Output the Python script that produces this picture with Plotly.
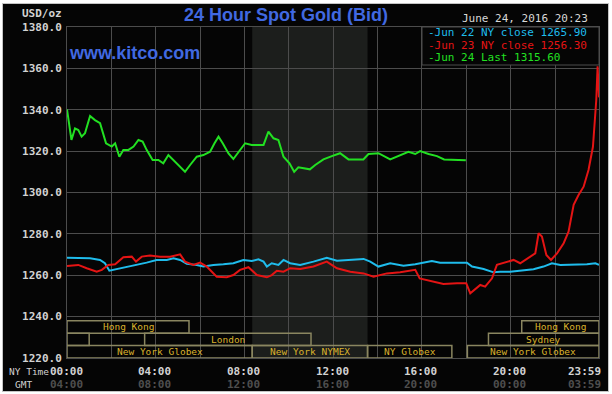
import plotly.graph_objects as go

# ---------------- data ----------------
green_t = [0.0, 0.2, 0.36, 0.51, 0.66, 0.81, 1.04, 1.26, 1.49, 1.76, 2.02, 2.17, 2.36, 2.54, 2.77, 3.0,
           3.22, 3.41, 3.59, 3.86, 4.12, 4.34, 4.57, 4.8, 5.1, 5.32, 5.55, 5.85, 6.15, 6.45, 6.65, 6.83,
           7.02, 7.28, 7.5, 7.73, 8.03, 8.33, 8.63, 8.86, 9.08, 9.31, 9.53, 9.76, 10.03, 10.24, 10.43,
           10.74, 10.95, 11.19, 11.56, 11.94, 12.31, 12.69, 13.07, 13.36, 13.59, 14.04, 14.57, 15.02,
           15.39, 15.7, 15.92, 16.3, 16.68, 17.0, 17.98]
green_v = [1340.2, 1325.4, 1331.0, 1330.2, 1327.0, 1328.6, 1337.0, 1335.0, 1333.5, 1323.8, 1322.2, 1323.8,
           1317.3, 1320.6, 1320.6, 1322.2, 1325.4, 1324.6, 1320.6, 1315.7, 1315.7, 1314.1, 1318.1, 1315.7,
           1312.5, 1310.0, 1313.3, 1317.3, 1318.1, 1319.7, 1323.8, 1327.0, 1323.8, 1318.9, 1316.2, 1319.7,
           1323.8, 1323.0, 1323.0, 1323.0, 1329.4, 1326.2, 1325.4, 1317.3, 1314.1, 1310.0, 1312.2, 1311.7,
           1311.2, 1313.3, 1316.0, 1317.6, 1319.0, 1316.0, 1316.2, 1316.0, 1318.6, 1319.0, 1316.0, 1318.1,
           1319.7, 1318.6, 1320.0, 1318.6, 1317.6, 1316.0, 1315.6]

cyan_t = [0.0, 0.59, 1.04, 1.49, 1.71, 1.91, 2.24, 2.69, 3.14, 3.59, 4.04, 4.5, 4.8, 5.1, 5.4, 5.85, 6.15,
          6.6, 7.05, 7.5, 7.95, 8.33, 8.63, 8.86, 9.01, 9.23, 9.53, 9.76, 10.06, 10.51, 11.11, 11.71, 12.17,
          12.77, 13.37, 13.67, 14.04, 14.57, 15.17, 15.7, 16.07, 16.45, 16.82, 17.42, 18.03, 18.26, 18.78,
          19.23, 19.53, 19.98, 20.43, 21.03, 21.48, 21.86, 22.24, 22.84, 23.44, 23.82, 23.983]
cyan_v = [1268.5, 1268.2, 1268.2, 1267.4, 1265.8, 1262.2, 1262.9, 1264.2, 1265.0, 1266.1, 1267.4, 1267.4,
          1268.2, 1267.4, 1265.5, 1265.0, 1264.2, 1265.0, 1265.3, 1265.8, 1267.4, 1266.9, 1267.7, 1266.6,
          1264.2, 1265.8, 1265.0, 1267.4, 1265.8, 1265.0, 1266.6, 1268.5, 1267.0, 1267.4, 1267.9, 1266.6,
          1264.2, 1265.8, 1264.6, 1265.3, 1266.1, 1266.9, 1266.1, 1266.1, 1266.1, 1264.2, 1263.0, 1261.4,
          1261.7, 1261.7, 1262.2, 1262.9, 1264.2, 1265.8, 1265.0, 1265.0, 1265.3, 1265.8, 1265.0]

red_t = [0.0, 0.51, 0.89, 1.34, 1.57, 1.86, 2.17, 2.54, 2.92, 3.11, 3.37, 3.74, 4.19, 4.65, 5.1, 5.32, 5.7,
         6.0, 6.3, 6.75, 7.2, 7.5, 7.8, 8.18, 8.56, 9.01, 9.23, 9.46, 9.76, 10.06, 10.51, 11.11, 11.71,
         12.17, 12.77, 13.37, 13.82, 14.42, 15.02, 15.7, 15.9, 16.37, 16.97, 17.58, 18.0, 18.18, 18.4,
         18.63, 18.85, 19.16, 19.38, 19.61, 19.83, 20.13, 20.43, 20.88, 21.11, 21.26, 21.41, 21.61, 21.82,
         22.09, 22.39, 22.61, 22.84, 23.06, 23.29, 23.51, 23.71, 23.86, 23.92, 23.96, 23.983]
red_v = [1264.5, 1265.0, 1263.4, 1261.7, 1262.6, 1265.0, 1265.3, 1268.7, 1269.0, 1266.6, 1269.0, 1269.5,
         1269.0, 1269.0, 1270.1, 1266.6, 1265.0, 1266.1, 1264.2, 1259.3, 1259.0, 1260.1, 1262.6, 1263.9,
         1260.1, 1259.0, 1260.1, 1262.2, 1261.7, 1263.4, 1263.0, 1264.2, 1266.6, 1263.4, 1261.7, 1260.9,
         1259.3, 1260.9, 1261.4, 1262.6, 1258.5, 1257.2, 1255.8, 1256.1, 1256.1, 1251.3, 1253.2, 1255.3,
         1254.5, 1258.5, 1265.0, 1265.8, 1266.6, 1267.4, 1265.8, 1269.0, 1270.6, 1280.3, 1278.7, 1269.8,
         1267.4, 1270.6, 1275.5, 1281.1, 1294.0, 1298.8, 1302.8, 1310.9, 1322.1, 1344.7, 1361.0, 1352.0,
         1346.0]

legend_labels = ["Jun 22 NY close 1265.90", "Jun 23 NY close 1256.30", "Jun 24 Last 1315.60"]

y_ticks = [1220, 1240, 1260, 1280, 1300, 1320, 1340, 1360, 1380]
x_tick_hours = [0, 4, 8, 12, 16, 20, 23.983]
ny_labels = ["00:00", "04:00", "08:00", "12:00", "16:00", "20:00", "23:59"]
gmt_labels = ["04:00", "08:00", "12:00", "16:00", "20:00", "00:00", "03:59"]

session_names = ["Hong Kong", "Hong Kong", "", "London", "Sydney",
                 "New York Globex", "New York NYMEX", "NY Globex", "New York Globex"]
session_start = [0.0, 20.5, 0.0, 3.5, 19.0, 0.0, 8.35, 13.55, 18.05]
session_end = [5.5, 23.983, 1.0, 11.0, 23.983, 8.35, 13.55, 17.35, 23.983]
session_row = [0, 0, 1, 1, 1, 2, 2, 2, 2]

nymex_start, nymex_end = 8.35, 13.55

# ---------------- layout helpers ----------------
W, H = 612, 394
L, R, T, B = 67, 13, 27, 36
PW, PH = W - L - R, H - T - B
X_END = 23.983


def px_x(px):
    return (px - L) / PW


def px_y(py):
    return (H - B - py) / PH


CYAN, RED, GREEN = "#1fbcec", "#e41414", "#22e022"
GRID = "#4c4c4c"
BOXLINE = "#8a8660"
GOLD = "#dab22c"
MONO = "DejaVu Sans Mono"

fig = go.Figure()
for t, v, c in [(cyan_t, cyan_v, CYAN), (red_t, red_v, RED), (green_t, green_v, GREEN)]:
    fig.add_trace(go.Scatter(x=t, y=v, mode="lines", line=dict(color=c, width=2),
                             hoverinfo="skip", showlegend=False))

shapes = [
    dict(type="rect", xref="paper", yref="paper", x0=px_x(2.5), x1=px_x(608.5), y0=px_y(391.5),
         y1=px_y(3.5), fillcolor="#050505", line=dict(color="#c4c4c4", width=1), layer="below"),
    dict(type="rect", xref="x", yref="paper", x0=nymex_start, x1=nymex_end, y0=0, y1=1,
         fillcolor="#1c1e1c", line=dict(width=0), layer="below"),
    dict(type="rect", xref="paper", yref="paper", x0=px_x(422), x1=1, y0=px_y(65), y1=1,
         fillcolor="#050505", line=dict(color=GRID, width=1), layer="above"),
]

row_edges = [(1232.0, 1238.0), (1226.0, 1232.0), (1220.0, 1226.0)]
annotations = []
for name, s, e, r in zip(session_names, session_start, session_end, session_row):
    y0, y1 = row_edges[r]
    shapes.append(dict(type="rect", xref="x", yref="y", x0=s, x1=e, y0=y0, y1=y1,
                       fillcolor="rgba(0,0,0,0)", line=dict(color=BOXLINE, width=1.5), layer="above"))
    if name:
        annotations.append(dict(x=(s + e) / 2, y=(y0 + y1) / 2, xref="x", yref="y", text=name,
                                showarrow=False, font=dict(family=MONO, size=9.5, color=GOLD)))

# x labels (NY time and GMT)
for i, (h, ny, g) in enumerate(zip(x_tick_hours, ny_labels, gmt_labels)):
    last = i == len(x_tick_hours) - 1
    for txt, py, col in [(ny, 371, "#d2d2d2"), (g, 384, "#4e4e4e")]:
        annotations.append(dict(x=h, y=px_y(py), xref="x", yref="paper", text=txt, showarrow=False,
                                xanchor="right" if last else "center", xshift=4 if last else -1,
                                yanchor="middle",
                                font=dict(family=MONO, size=11, color=col, weight="bold")))

annotations += [
    dict(x=px_x(7), y=px_y(371), xref="paper", yref="paper", text="NY Time", showarrow=False,
         xanchor="left", yanchor="middle", font=dict(family=MONO, size=9.5, color="#d2d2d2")),
    dict(x=px_x(13), y=px_y(384), xref="paper", yref="paper", text="GMT", showarrow=False,
         xanchor="left", yanchor="middle", font=dict(family=MONO, size=9.5, color="#d2d2d2")),
    dict(x=px_x(64), y=px_y(14), xref="paper", yref="paper", text="USD/oz", showarrow=False,
         xanchor="right", yanchor="middle",
         font=dict(family=MONO, size=11, color="#d2d2d2", weight="bold")),
    dict(x=px_x(286), y=px_y(15), xref="paper", yref="paper", text="24 Hour Spot Gold (Bid)",
         showarrow=False, xanchor="center", yanchor="middle",
         font=dict(family="Liberation Sans", size=18, color="#4169e1", weight="bold")),
    dict(x=px_x(67), y=px_y(53), xref="paper", yref="paper", text="www.kitco.com",
         showarrow=False, xanchor="left", yanchor="middle",
         font=dict(family="Liberation Sans", size=18, color="#4169e1", weight="bold")),
    dict(x=px_x(590), y=px_y(19), xref="paper", yref="paper", text="June 24, 2016 20:23",
         showarrow=False, xanchor="right", yanchor="middle",
         font=dict(family=MONO, size=11, color="#d8d8d8")),
]
for lab, col, py in zip(legend_labels, [CYAN, RED, GREEN], [33, 45, 57]):
    annotations.append(dict(x=px_x(426), y=px_y(py), xref="paper", yref="paper", text="-" + lab,
                            showarrow=False, xanchor="left", yanchor="middle",
                            font=dict(family=MONO, size=11, color=col)))

fig.update_layout(
    width=W, height=H,
    margin=dict(l=L, r=R, t=T, b=B, pad=0),
    paper_bgcolor="#ffffff", plot_bgcolor="#050505",
    shapes=shapes, annotations=annotations,
    xaxis=dict(range=[0, X_END], tickvals=list(range(0, 24, 2)), showticklabels=False,
               showgrid=True, gridcolor=GRID, gridwidth=1, zeroline=False,
               showline=True, linecolor=GRID, mirror=True, ticks=""),
    yaxis=dict(range=[1220, 1380], tickvals=y_ticks, tickformat=".1f", showgrid=True,
               gridcolor=GRID, gridwidth=1, zeroline=False, showline=True, linecolor=GRID,
               mirror=True, ticks="", ticklabelstandoff=2,
               tickfont=dict(family=MONO, size=11, color="#d2d2d2", weight="bold")),
    showlegend=False,
)

fig.write_html("out.html", config={"displayModeBar": False},
               post_script="document.body.style.margin='0';document.body.style.padding='0';"
                           "document.body.style.overflow='hidden';")
